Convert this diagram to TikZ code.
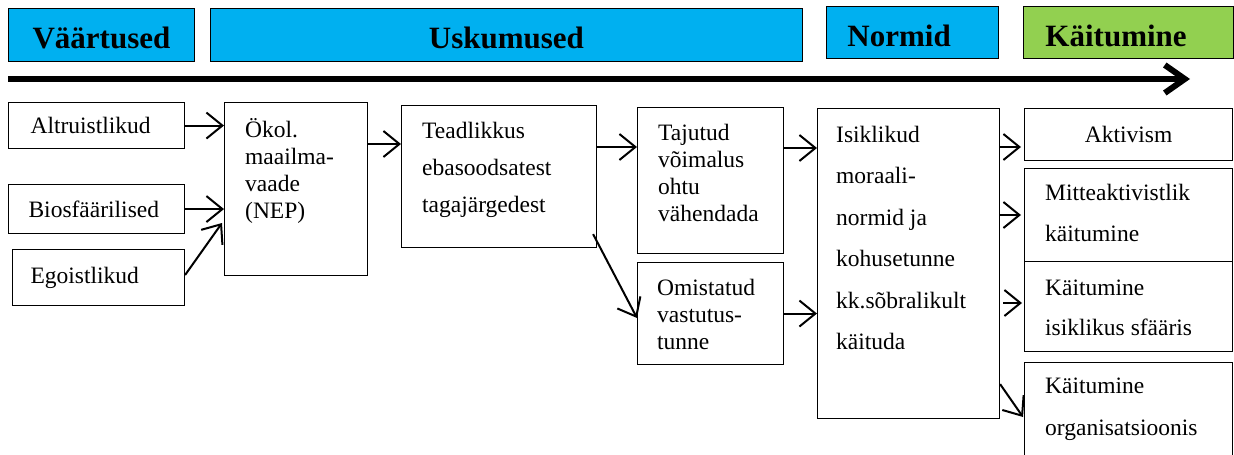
\documentclass[tikz,border=0pt]{standalone}
\usepackage{fontspec}
\setmainfont{Liberation Serif}
\usetikzlibrary{arrows.meta,calc}
\definecolor{hdrblue}{HTML}{00B0F0}
\definecolor{hdrgreen}{HTML}{92D050}
\begin{document}
\begin{tikzpicture}[x=1pt,y=-1pt,
  hdr/.style={draw=black, line width=0.9pt, font=\bfseries\fontsize{31}{36}\selectfont,
    inner ysep=0pt, anchor=north west},
  hdrA/.style={hdr, text height=40pt, text depth=13pt, align=center},
  hdrB/.style={hdr, text height=40.5pt, text depth=11.5pt, align=left},
  box/.style={draw=black, line width=1.1pt, anchor=north west, inner sep=0pt},
  sbox/.style={box, font=\fontsize{23.5}{28}\selectfont, align=left},
  txt/.style={anchor=north west, inner sep=0pt, align=left,
    font=\fontsize{23.5}{#1}\selectfont},
  conn/.style={line width=2pt, -{Straight Barb[length=16pt,width=26pt]}},
  bigarrow/.style={line width=6pt, -{Straight Barb[length=20pt,width=28pt]}}
]
\useasboundingbox (0,0) rectangle (1234,455);

% header
\node[hdrA, fill=hdrblue, minimum width=186pt] (vaa) at (8,8) {Väärtused};
\node[hdrA, fill=hdrblue, minimum width=592pt] (usk) at (210,8) {Uskumused};
\node[hdrB, fill=hdrblue, inner xsep=21pt, text width=130pt] (nor) at (826,6) {Normid};
\node[hdrB, fill=hdrgreen, inner xsep=22pt, text width=166pt] (kai) at (1023,6) {Käitumine};

\coordinate (as) at (8,79);
\coordinate (ae) at (1190,79);
\draw[bigarrow] (as) -- (ae);

% left column
\node[sbox, minimum height=46pt, inner xsep=22pt, text width=132pt] (alt) at (8,102) {Altruistlikud};
\node[sbox, minimum height=49pt, inner xsep=20pt, text width=136pt] (bio) at (8,184) {Biosfäärilised};
\node[sbox, minimum height=56pt, inner xsep=18pt, text width=136pt] (ego) at (12,249) {Egoistlikud};

% boxes
\node[box, minimum width=143pt, minimum height=173pt] (ok) at (224,102) {};
\node[txt=27] (okt) at (245,117.8) {Ökol.\\maailma-\\vaade\\(NEP)};

\node[box, minimum width=195pt, minimum height=142pt] (tea) at (401,105) {};
\node[txt=37] (teat) at (422,122) {Teadlikkus\\ebasoodsatest\\tagajärgedest};

\node[box, minimum width=146pt, minimum height=146pt] (taj) at (637,107) {};
\node[txt=27] (tajt) at (658,124.4) {Tajutud\\võimalus\\ohtu\\vähendada};

\node[box, minimum width=146pt, minimum height=102pt] (omi) at (637,262) {};
\node[txt=27] (omit) at (657,279) {Omistatud\\vastutus-\\tunne};

\node[box, minimum width=182pt, minimum height=310pt] (isi) at (817,108) {};
\node[txt=41.5] (isit) at (836,125.8) {Isiklikud\\moraali-\\normid ja\\kohusetunne\\kk.sõbralikult\\käituda};

% right column
\node[box, minimum width=208pt, minimum height=52pt, font=\fontsize{23.5}{28}\selectfont] (akt) at (1024,108) {Aktivism};
\node[box, minimum width=208pt, minimum height=93pt] (mit) at (1024,168) {};
\node[txt=41] (mitt) at (1045,183.6) {Mitteaktivistlik\\käitumine};
\node[box, minimum width=208pt, minimum height=90pt] (kis) at (1024,261) {};
\node[txt=40] (kist) at (1045,279.3) {Käitumine\\isiklikus sfääris};
\node[box, minimum width=208pt, minimum height=110pt] (org) at (1024,362) {};
\node[txt=42] (orgt) at (1045,377.6) {Käitumine\\organisatsioonis};

% connectors
\draw[conn] (alt.east) -- (alt.east -| ok.west);
\draw[conn] (bio.east) -- (bio.east -| ok.west);
\draw[conn] ($(ego.north east)+(0,26)$) -- ($(ok.north west)+(-2,121)$);
\draw[conn] ($(ok.north east)+(0,42)$) -- ($(tea.north west)+(0,39)$);
\draw[conn] ($(tea.north east)+(0,42)$) -- ($(taj.north west)+(0,40)$);
\draw[conn] ($(tea.south east)+(-4,-14)$) -- ($(omi.north west)+(0,56)$);
\draw[conn] ($(taj.north east)+(0,41)$) -- ($(isi.north west)+(0,40)$);
\draw[conn] (omi.east) -- (omi.east -| isi.west);
\draw[conn, shorten >=3pt] ($(isi.north east)+(0,39)$) -- ($(akt.north west)+(0,39)$);
\draw[conn, shorten >=3pt] ($(isi.north east)+(0,107)$) -- ($(mit.north west)+(0,47)$);
\draw[conn, shorten >=2pt] ($(isi.north east)+(3,195)$) -- ($(kis.north west)+(0,42)$);
\draw[conn] ($(isi.south east)+(0,-35)$) -- ($(org.north west)+(-1,55)$);
\end{tikzpicture}
\end{document}
